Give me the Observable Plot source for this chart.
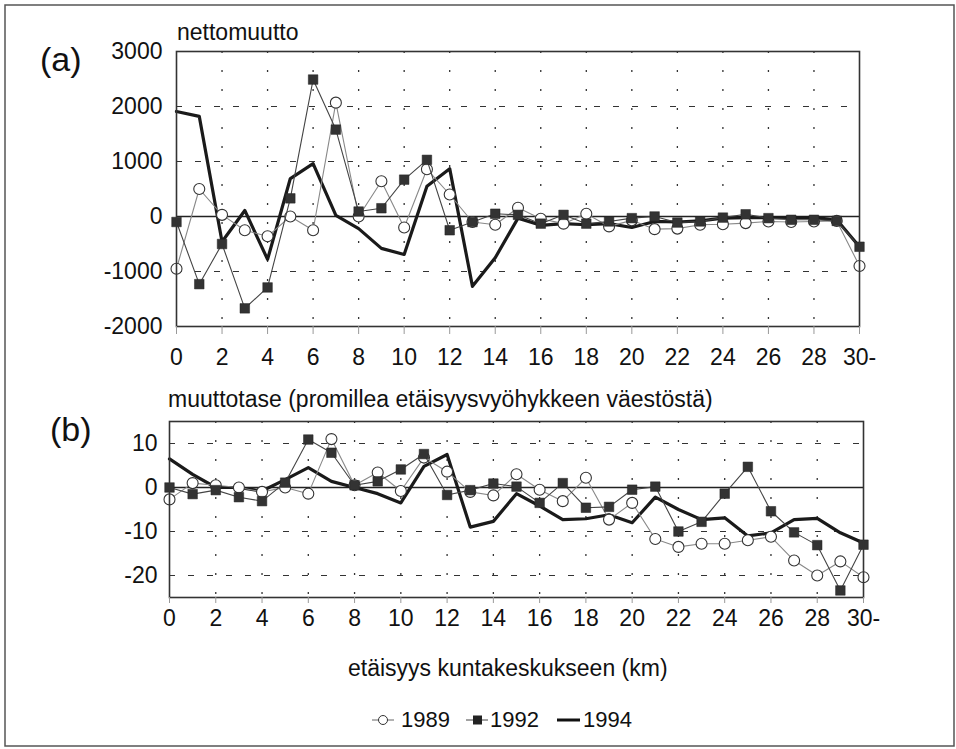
<!DOCTYPE html>
<html><head><meta charset="utf-8">
<script src="https://cdn.jsdelivr.net/npm/d3@7"></script>
<script src="https://cdn.jsdelivr.net/npm/@observablehq/plot@0.6"></script>
<style>
body{margin:0;background:#fff;}
#wrap{position:relative;width:956px;height:749px;font-family:"Liberation Sans",Arial,Helvetica,sans-serif;}
#wrap > svg{position:absolute;left:0;}
</style></head><body><div id="wrap"></div>
<script>
// ---- data ----
const km = [0,1,2,3,4,5,6,7,8,9,10,11,12,13,14,15,16,17,18,19,20,21,22,23,24,25,26,27,28,29,30];
const xTicks = [0,2,4,6,8,10,12,14,16,18,20,22,24,26,28,30];
const years = ["1989","1992","1994"];

// (a) nettomuutto
const netto1989 = [-950,500,30,-250,-360,0,-250,2070,0,640,-200,860,400,-100,-150,160,-40,-130,50,-180,-70,-230,-220,-150,-140,-120,-90,-100,-90,-80,-900];
const netto1992 = [-100,-1230,-500,-1670,-1290,330,2490,1580,90,150,670,1030,-250,-100,50,30,-130,30,-130,-90,-30,0,-110,-90,-20,40,-30,-60,-60,-80,-550];
const netto1994 = [1910,1820,-460,110,-780,690,960,20,-220,-580,-690,550,870,-1270,-750,-30,-160,-130,-150,-130,-200,-90,-100,-80,-30,-20,-20,-20,-20,-60,-550];
const nettoTicks = [-2000,-1000,0,1000,2000,3000];
const nettoGrid = [-1000,1000,2000];

// (b) muuttotase (promillea)
const tase1989 = [-2.7,1,0.5,0,-1,0,-1.4,11,0.5,3.4,-0.8,6.8,3.6,-1,-1.8,3,-0.5,-3.1,2.2,-7.3,-3.5,-11.7,-13.5,-12.8,-12.8,-12,-11.2,-16.6,-20,-16.8,-20.4];
const tase1992 = [0,-1.5,-0.6,-2.2,-3.1,1.1,10.9,7.9,0.5,1.4,4.1,7.6,-1.7,-0.6,0.9,0.2,-3.5,1.0,-4.6,-4.4,-0.5,0.2,-10,-7.8,-1.4,4.7,-5.4,-10.2,-13.1,-23.4,-13];
const tase1994 = [6.5,3,0,0,-0.8,1.8,4.5,1.4,0,-1.4,-3.5,4.8,7.5,-9,-7.7,-1.4,-4.2,-7.3,-7.1,-6.2,-8,-2.2,-5,-7.3,-6.9,-11,-10.3,-7.3,-7,-10.3,-12.6];
const taseTicks = [-20,-10,0,10];
const taseGrid = [-20,-10,10];

const titleA = "nettomuutto";
const titleB = "muuttotase (promillea etäisyysvyöhykkeen väestöstä)";
const xTitle = "etäisyys kuntakeskukseen (km)";

const FONT = '"Liberation Sans", Arial, Helvetica, sans-serif';

function rows(arr){ return km.map((k,i)=>({k, v: arr[i]})); }

function panel(o){
  const d89 = rows(o.s89), d92 = rows(o.s92), d94 = rows(o.s94);
  return Plot.plot({
    width: 956, height: o.height,
    marginTop: o.mt, marginBottom: o.mb, marginLeft: o.ml, marginRight: o.mr,
    style: {fontSize: "23px", fontFamily: FONT, color: "#111", background: "transparent"},
    x: {domain: [0,30], axis: null},
    y: {domain: o.yDomain, axis: null},
    marks: [
      Plot.ruleY(o.grid, {stroke: "#333", strokeWidth: 1.1, strokeDasharray: "6,13"}),
      Plot.ruleX(xTicks.slice(1,-1), {stroke: "#333", strokeWidth: 1.3, strokeDasharray: "2,17"}),
      Plot.ruleY([0], {stroke: "#222", strokeWidth: 1.4}),
      Plot.lineY(d94, {x: "k", y: "v", stroke: "#1a1a1a", strokeWidth: 3.2}),
      Plot.lineY(d89, {x: "k", y: "v", stroke: "#888", strokeWidth: 1.1}),
      Plot.dot(d89, {x: "k", y: "v", r: 5.5, stroke: "#333", fill: "white", strokeWidth: 1.1}),
      Plot.lineY(d92, {x: "k", y: "v", stroke: "#444", strokeWidth: 1.1}),
      Plot.dot(d92, {x: "k", y: "v", r: 5.4, symbol: "square", fill: "#333", stroke: "#222", strokeWidth: 0.5}),
      Plot.frame({stroke: "#333", strokeWidth: 1.6}),
      Plot.axisX(xTicks, {anchor: "bottom", tickSize: o.xTickSize, tickPadding: o.xTickPad, stroke: "#999", fill: "#111",
        tickFormat: d => d === 30 ? "30-" : String(d), label: null}),
      Plot.axisY(o.yTicks, {anchor: "left", tickSize: 0, tickPadding: o.yTickPad, fill: "#111", label: null,
        tickFormat: d => String(d)})
    ]
  });
}

const wrap = document.getElementById("wrap");

const pa = panel({s89: netto1989, s92: netto1992, s94: netto1994, yDomain: [-2000,3000], yTicks: nettoTicks, grid: nettoGrid,
  height: 370, mt: 51, mb: 44, ml: 176, mr: 97, xTickSize: 8, xTickPad: 14, yTickPad: 14});
pa.style.top = "0px";
wrap.appendChild(pa);

const pb = panel({s89: tase1989, s92: tase1992, s94: tase1994, yDomain: [-25,15], yTicks: taseTicks, grid: taseGrid,
  height: 270, mt: 51, mb: 43, ml: 169, mr: 93, xTickSize: 6, xTickPad: 6, yTickPad: 12});
pb.style.top = "370px";
wrap.appendChild(pb);

// overlay: border, panel letters, titles, x title, legend
const ov = d3.select(wrap).append("svg").attr("width", 956).attr("height", 749).style("top", "0px")
  .style("font-family", FONT).style("pointer-events", "none");
ov.append("rect").attr("x", 5).attr("y", 5).attr("width", 949).attr("height", 741)
  .attr("fill", "none").attr("stroke", "#555").attr("stroke-width", 1.5);
ov.append("text").attr("x", 40).attr("y", 71).attr("font-size", 34).attr("fill", "#111").text("(a)");
ov.append("text").attr("x", 50).attr("y", 441).attr("font-size", 34).attr("fill", "#111").text("(b)");
ov.append("text").attr("x", 177).attr("y", 40).attr("font-size", 23).attr("fill", "#111").text(titleA);
ov.append("text").attr("x", 168).attr("y", 407).attr("font-size", 23).attr("fill", "#111").text(titleB);
ov.append("text").attr("x", 348).attr("y", 676).attr("font-size", 23).attr("fill", "#111").text(xTitle);

// legend
const lg = ov.append("g");
const ly = 720;
// 1989
lg.append("line").attr("x1", 372).attr("x2", 394).attr("y1", ly).attr("y2", ly).attr("stroke", "#666").attr("stroke-width", 1);
lg.append("circle").attr("cx", 383).attr("cy", ly).attr("r", 4.5).attr("fill", "white").attr("stroke", "#333");
lg.append("text").attr("x", 401).attr("y", 727).attr("font-size", 22).attr("fill", "#111").text(years[0]);
// 1992
lg.append("line").attr("x1", 466).attr("x2", 488).attr("y1", ly).attr("y2", ly).attr("stroke", "#444").attr("stroke-width", 1);
lg.append("rect").attr("x", 473).attr("y", ly-4.5).attr("width", 9).attr("height", 9).attr("fill", "#222");
lg.append("text").attr("x", 490).attr("y", 727).attr("font-size", 22).attr("fill", "#111").text(years[1]);
// 1994
lg.append("line").attr("x1", 557).attr("x2", 580).attr("y1", ly).attr("y2", ly).attr("stroke", "#111").attr("stroke-width", 3);
lg.append("text").attr("x", 583).attr("y", 727).attr("font-size", 22).attr("fill", "#111").text(years[2]);
</script>
</body></html>
